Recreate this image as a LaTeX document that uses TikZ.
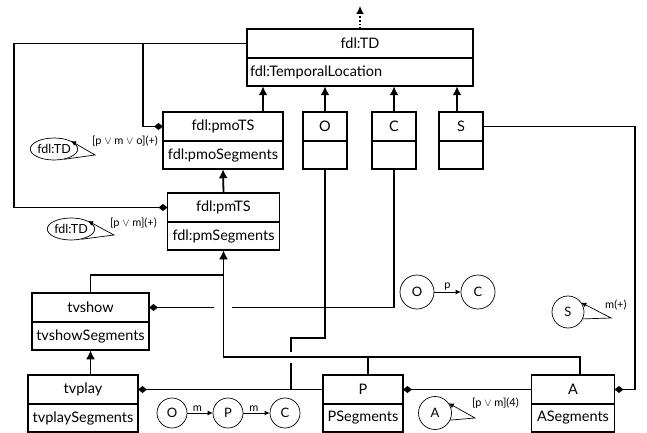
\documentclass[tikz,border=0pt]{standalone}
\usepackage{fontspec}
\setmainfont{Lato}
\usetikzlibrary{shapes.geometric, positioning, arrows.meta}

\tikzset{
  cls/.style={draw, line width=1.8pt, outer sep=0pt, inner sep=3pt, minimum height=28.5pt, font=\fontsize{14.5}{16}\selectfont},
  conn/.style={line width=1.8pt},
  isa/.style={conn, -{Latex[length=9pt,width=9pt]}},
  part/.style={conn, -{Diamond[length=9pt,width=7pt]}},
  state/.style={draw, circle, line width=0.7pt, minimum size=34pt, inner sep=0pt, font=\fontsize{13}{15}\selectfont},
  trans/.style={line width=0.7pt, -{Latex[length=5pt,width=5pt]}},
  rel/.style={font=\fontsize{11}{13}\selectfont, inner sep=1pt},
}

\begin{document}
\begin{tikzpicture}[x=1pt, y=-1pt]
\useasboundingbox (0,0) rectangle (647,433);
% classes
\node[cls, minimum width=226pt] (td) at (360,43.5) {fdl:TD};
\node[cls, minimum width=226pt, text width=220pt, align=left, below=0pt of td] (tdSeg) {fdl:TemporalLocation};
\node[cls, minimum width=120pt] (pmo) at (223,126.5) {fdl:pmoTS};
\node[cls, minimum width=120pt, below=0pt of pmo] (pmoSeg) {fdl:pmoSegments};
\foreach \n/\t/\x in {o/O/325, c/C/394, s/S/461} {
  \node[cls, minimum width=44pt] (\n) at (\x,126.5) {\t};
  \node[cls, minimum width=44pt, below=0pt of \n] (\n Seg) {};
}
\node[cls, minimum width=112pt] (pm) at (223.5,207.5) {fdl:pmTS};
\node[cls, minimum width=112pt, below=0pt of pm] (pmSeg) {fdl:pmSegments};
\node[cls, minimum width=117pt] (tvshow) at (90.5,307.5) {tvshow};
\node[cls, minimum width=117pt, below=0pt of tvshow] (tvshowSeg) {tvshowSegments};
\node[cls, minimum width=110pt] (tvplay) at (83,389.5) {tvplay};
\node[cls, minimum width=110pt, below=0pt of tvplay] (tvplaySeg) {tvplaySegments};
\node[cls, minimum width=80pt] (p) at (363,389.5) {P};
\node[cls, minimum width=80pt, below=0pt of p] (pSeg) {PSegments};
\node[cls, minimum width=83pt] (a) at (573,389.5) {A};
\node[cls, minimum width=83pt, below=0pt of a] (aSeg) {ASegments};

% inheritance
\coordinate (up) at (360,6);
\draw[conn, dotted, -{Latex[length=8pt,width=8pt]}] (td.north) -- (up);
\coordinate (pmoUp) at ([xshift=40pt]pmo.north);
\draw[isa] (pmoUp) -- (pmoUp |- tdSeg.south);
\draw[isa] (pm.north) -- (pmoSeg.south);
\foreach \n in {o, c} \draw[isa] (\n.north) -- (\n.north |- tdSeg.south);
\coordinate (sUp) at ([xshift=-4pt]s.north);
\draw[isa] (sUp) -- (sUp |- tdSeg.south);
\coordinate (bus) at (0,357);
\coordinate (tvBus) at (0,275);
\coordinate (pUp) at ([xshift=5pt]p.north);
\coordinate (aUp) at ([xshift=7pt]a.north);
\draw[isa] (aUp) |- (pmSeg.south |- bus) -- (pmSeg.south);
\draw[conn] (pUp) -- (pUp |- bus);
\draw[conn] (tvshow.north) |- (pmSeg.south |- tvBus);
\draw[isa] (tvshow.north |- tvplay.north) -- (tvshowSeg.south);

% parts
\coordinate (lft) at (14,0);
\coordinate (brk) at (143,0);
\draw[part] (td.west) -- (td.west -| lft) |- (pm.west);
\draw[part] (td.west -| brk) |- (pmo.west);
\coordinate (rgt) at (635,0);
\draw[part] (s.east) -- (s.east -| rgt) |- (a.east);
\coordinate (gapR) at (232,0);
\coordinate (gapL) at (214,0);
\draw[conn] (cSeg.south) |- (tvshow.east -| gapR);
\draw[part] (tvshow.east -| gapL) -- (tvshow.east);
\coordinate (oJog) at (291,338);
\draw[conn] (oSeg.south) |- (oJog) -- ++(0,14);
\draw[conn] (oJog) ++(0,25) -- (oJog |- p.west);
\draw[part] (p.west) -- (tvplay.east);
\draw[part] (a.west) -- (p.east);

% relation constraints
\node[draw, ellipse, line width=0.7pt, inner sep=0pt, minimum width=42pt, minimum height=22pt, font=\fontsize{12.5}{14}\selectfont] (td1) at (54,149) {fdl:TD};
\coordinate (td1v) at (95,155);
\draw[trans] (td1.-45) -- (td1v) -- (td1.25);
\node[rel, anchor=west] (td1l) at (91,141) {[p $\vee$ m $\vee$ o](+)};
\node[draw, ellipse, line width=0.7pt, inner sep=0pt, minimum width=42pt, minimum height=22pt, font=\fontsize{12.5}{14}\selectfont] (td2) at (71,229) {fdl:TD};
\coordinate (td2v) at (114,235);
\draw[trans] (td2.-45) -- (td2v) -- (td2.25);
\node[rel, anchor=west] (td2l) at (109,223) {[p $\vee$ m](+)};

\node[state] (o1) at (417,292) {O};
\node[state] (c1) at (478,292) {C};
\draw[trans] (o1) -- node[rel, above] {p} (c1);

\node[state, minimum size=30pt] (o2) at (172,413) {O};
\node[state, minimum size=30pt] (p2) at (228,413) {P};
\node[state, minimum size=30pt] (c2) at (285,413) {C};
\draw[trans] (o2) -- node[rel, above, pos=0.4] {m} (p2);
\draw[trans] (p2) -- node[rel, above, pos=0.4] {m} (c2);

\node[state, minimum size=32pt] (s1) at (568,312) {S};
\coordinate (s1v) at (611,318);
\draw[trans] (s1.-25) -- (s1v) -- (s1.35);
\node[rel, anchor=west] (s1l) at (604,305) {m(+)};

\node[state, minimum size=33pt] (a1) at (435,413) {A};
\coordinate (a1v) at (475,418);
\draw[trans] (a1.-25) -- (a1v) -- (a1.35);
\node[rel, anchor=west] (a1l) at (471,403) {[p $\vee$ m](4)};
\end{tikzpicture}
\end{document}
